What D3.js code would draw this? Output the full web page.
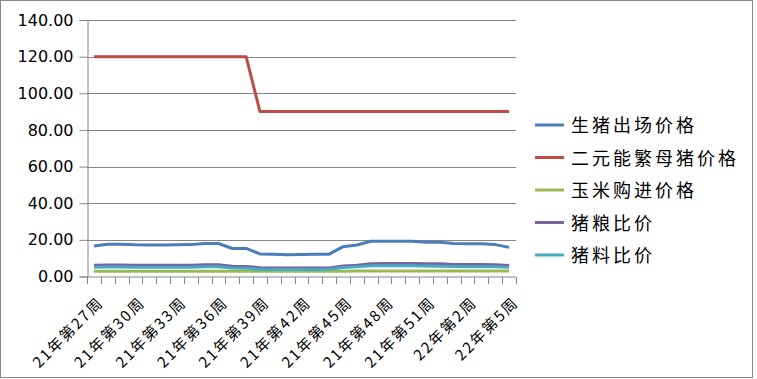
<!DOCTYPE html>
<html lang="zh">
<head>
<meta charset="UTF-8">
<title>生猪价格</title>
<script src="https://d3js.org/d3.v7.min.js"></script>
<style>
  body { margin: 0; background: #fff; }
  .ylab { font-family: "DejaVu Sans", sans-serif; font-size: 16px; fill: #000; }
  .xlab { font-family: "Noto Sans CJK SC", sans-serif; font-size: 15px; letter-spacing: 2px; fill: #000; }
  .leg { font-family: "Noto Sans CJK SC", sans-serif; font-size: 18px; letter-spacing: 3px; fill: #000; }
</style>
</head>
<body>
<svg width="757" height="379"></svg>
<script>
// weeks 21年第27周 .. 22年第5周
const weeks = [];
for (let w = 27; w <= 52; w++) weeks.push("21年第" + w + "周");
for (let w = 1; w <= 5; w++) weeks.push("22年第" + w + "周");

const hogPrice = [16.7, 17.6, 17.6, 17.3, 17.2, 17.2, 17.3, 17.4, 18.0, 18.0, 15.3, 15.3,
  12.3, 12.2, 11.9, 12.0, 12.1, 12.2, 16.3, 17.2, 19.2, 19.3, 19.3, 19.2, 18.7, 18.7,
  18.0, 17.9, 17.9, 17.4, 15.9];
const sowPrice = [120, 120, 120, 120, 120, 120, 120, 120, 120, 120, 120, 120,
  90, 90, 90, 90, 90, 90, 90, 90, 90, 90, 90, 90, 90, 90, 90, 90, 90, 90, 90];
const cornPrice = [2.8, 2.8, 2.8, 2.8, 2.8, 2.8, 2.8, 2.8, 2.8, 2.8, 2.8, 2.8,
  2.8, 2.8, 2.8, 2.8, 2.8, 2.8, 2.9, 3.0, 3.0, 3.0, 3.0, 3.0, 3.0, 3.0, 3.0, 3.0, 3.0, 3.0, 3.0];
const hogGrainRatio = [6.1, 6.3, 6.3, 6.2, 6.2, 6.2, 6.2, 6.2, 6.4, 6.4, 5.6, 5.5,
  4.8, 4.7, 4.6, 4.6, 4.7, 4.7, 5.8, 6.2, 7.0, 7.1, 7.1, 7.1, 7.0, 6.9, 6.6, 6.5, 6.5, 6.4, 6.0];
const hogFeedRatio = [5.0, 5.2, 5.2, 5.1, 5.1, 5.1, 5.1, 5.1, 5.3, 5.3, 4.6, 4.5,
  3.9, 3.8, 3.8, 3.8, 3.8, 3.9, 4.9, 5.3, 5.8, 5.9, 5.9, 5.8, 5.7, 5.6, 5.4, 5.3, 5.3, 5.3, 5.0];

const seriesNames = ["生猪出场价格", "二元能繁母猪价格", "玉米购进价格", "猪粮比价", "猪料比价"];
const seriesColors = ["#4a7ebb", "#be4b48", "#98b954", "#7d60a0", "#46aac5"];
const seriesData = [hogPrice, sowPrice, cornPrice, hogGrainRatio, hogFeedRatio];

const yTicks = [0, 20, 40, 60, 80, 100, 120, 140];
const xLabelStep = 3;

const svg = d3.select("svg");

// chart border
svg.append("rect")
  .attr("x", 0.5).attr("y", 0.5)
  .attr("width", 752).attr("height", 377)
  .attr("fill", "#fff").attr("stroke", "#868686");

const x = d3.scaleBand().domain(weeks).range([87, 516]).padding(0);
const y = d3.scaleLinear().domain([0, 140]).range([276.5, 20]);

// gridlines
svg.append("g").selectAll("line").data(yTicks.slice(1)).join("line")
  .attr("x1", 87).attr("x2", 516)
  .attr("y1", d => Math.round(y(d)) + 0.5).attr("y2", d => Math.round(y(d)) + 0.5)
  .attr("stroke", "#868686");

// y axis
const yAxis = svg.append("g")
  .attr("transform", "translate(87.5,0)")
  .call(d3.axisLeft(y).tickValues(yTicks).tickFormat(d3.format(".2f")).tickSize(8).tickPadding(6));
yAxis.select(".domain").attr("stroke", "#868686");
yAxis.selectAll(".tick line").attr("stroke", "#868686");
yAxis.selectAll(".tick text").attr("class", "ylab").attr("font-size", null).attr("font-family", null);

// x axis baseline and boundary ticks
svg.append("line")
  .attr("x1", 87).attr("x2", 516)
  .attr("y1", 277).attr("y2", 277)
  .attr("stroke", "#868686");
svg.append("g").selectAll("line").data(d3.range(weeks.length + 1)).join("line")
  .attr("x1", i => Math.round(87 + i * x.step()) + 0.5)
  .attr("x2", i => Math.round(87 + i * x.step()) + 0.5)
  .attr("y1", 277).attr("y2", 284)
  .attr("stroke", "#868686");

// x labels
svg.append("g").selectAll("text")
  .data(weeks.filter((d, i) => i % xLabelStep === 0)).join("text")
  .attr("class", "xlab")
  .attr("text-anchor", "end")
  .attr("transform", d => `translate(${x(d) + x.bandwidth() / 2 + 10.5},${303.5}) rotate(-45)`)
  .text(d => d);

// lines
const line = d3.line()
  .x((d, i) => x(weeks[i]) + x.bandwidth() / 2)
  .y(d => y(d));

svg.append("g").selectAll("path").data(seriesData).join("path")
  .attr("d", d => line(d))
  .attr("fill", "none")
  .attr("stroke", (d, i) => seriesColors[i])
  .attr("stroke-width", 3)
  .attr("stroke-linejoin", "round");

// legend
const leg = svg.append("g").selectAll("g").data(seriesNames).join("g")
  .attr("transform", (d, i) => `translate(535,${125 + i * 32.5})`);
leg.append("line")
  .attr("x1", 0).attr("x2", 29)
  .attr("stroke", (d, i) => seriesColors[i])
  .attr("stroke-width", 3);
leg.append("text")
  .attr("class", "leg")
  .attr("x", 36).attr("y", 1)
  .attr("dy", "0.35em")
  .text(d => d);
</script>
</body>
</html>
